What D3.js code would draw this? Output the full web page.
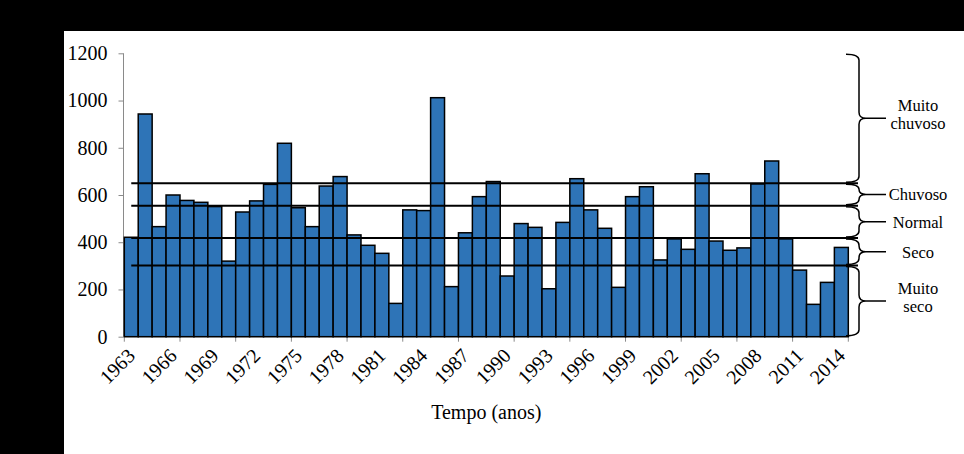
<!DOCTYPE html>
<html lang="pt">
  <head>
    <title>Precipitacao anual</title>
    <script src="https://d3js.org/d3.v7.min.js"></script>
    <style>
      body {
        margin: 0;
        background: black;
      }
      svg text {
        font-family: "Liberation Serif", "Times New Roman", "DejaVu Serif", serif;
        fill: black;
      }
      .bar {
        fill: #2e74b7;
        stroke: black;
        stroke-width: 1.5;
      }
      .limit {
        stroke: black;
        stroke-width: 2;
      }
      .brace {
        fill: none;
        stroke: black;
        stroke-width: 1.5;
      }
      .axis path,
      .axis line {
        stroke: #8a8a8a;
      }
    </style>
  </head>
  <body>
    <div id="chart"></div>
    <script>
      // Anos e precipitacao anual (mm)
      let years = d3.range(1963, 2015);
      let rainfall = [
        421, 943, 466, 600, 577, 569, 551, 320, 528, 575,
        645, 819, 546, 466, 638, 678, 431, 387, 353, 141,
        537, 534, 1012, 212, 440, 593, 657, 257, 479, 463,
        203, 484, 669, 537, 459, 209, 593, 635, 325, 414,
        370, 690, 405, 366, 376, 647, 744, 414, 282, 137,
        230, 378,
      ];
      let yTicks = [0, 200, 400, 600, 800, 1000, 1200];
      let yearLabels = years.filter(function (d) {
        return (d - 1963) % 3 === 0;
      });

      // limites das classes (de cima para baixo)
      let limits = [1200, 650, 555, 418, 302, 0];
      let classNames = [
        ["Muito", "chuvoso"],
        ["Chuvoso"],
        ["Normal"],
        ["Seco"],
        ["Muito", "seco"],
      ];

      let width = 964;
      let height = 454;
      let svg = d3
        .select("#chart")
        .append("svg")
        .attr("width", width)
        .attr("height", height)
        .attr("font-family", "Liberation Serif, serif");

      svg
        .append("rect")
        .attr("x", 64)
        .attr("y", 31)
        .attr("width", width - 64)
        .attr("height", height - 31)
        .attr("fill", "white");

      let x = d3.scaleBand().domain(years).range([124.3, 848.3]).padding(0);
      let y = d3.scaleLinear().domain([0, 1200]).range([336.7, 53.3]);

      // eixo y
      let yAxis = svg
        .append("g")
        .attr("class", "axis")
        .attr("transform", "translate(123.5,0)")
        .call(
          d3
            .axisLeft(y)
            .tickValues(yTicks)
            .tickFormat(d3.format("d"))
            .tickSize(5)
            .tickPadding(11)
        );
      yAxis.attr("font-family", null);
      yAxis.selectAll("text").style("font-size", "20px");
      yAxis.select(".domain").attr("d", "M-0,53.3V336.7");

      // eixo x (marcas a cada 4 anos)
      let tickPos = d3.range(0, years.length + 1, 4).map(function (i) {
        return x.range()[0] + i * x.step();
      });
      let xAxis = svg.append("g").attr("class", "axis");
      xAxis
        .append("line")
        .attr("x1", x.range()[0])
        .attr("x2", x.range()[1])
        .attr("y1", y(0))
        .attr("y2", y(0));
      xAxis
        .selectAll(".tk")
        .data(tickPos)
        .enter()
        .append("line")
        .attr("x1", function (d) {
          return d;
        })
        .attr("x2", function (d) {
          return d;
        })
        .attr("y1", y(0))
        .attr("y2", y(0) + 5);

      // barras
      svg
        .append("g")
        .selectAll("rect")
        .data(rainfall)
        .enter()
        .append("rect")
        .attr("class", "bar")
        .attr("x", function (d, i) {
          return x(years[i]);
        })
        .attr("y", function (d) {
          return y(d);
        })
        .attr("width", x.bandwidth())
        .attr("height", function (d) {
          return y(0) - y(d);
        });

      // rotulos dos anos
      svg
        .append("g")
        .selectAll("text")
        .data(yearLabels)
        .enter()
        .append("text")
        .attr("text-anchor", "end")
        .style("font-size", "20px")
        .attr("transform", function (d) {
          let cx = x(d) + x.bandwidth() / 2;
          return "translate(" + (cx + 5) + ",357) rotate(-45)";
        })
        .text(function (d) {
          return d;
        });

      svg
        .append("text")
        .attr("x", (x.range()[0] + x.range()[1]) / 2)
        .attr("y", 419)
        .attr("text-anchor", "middle")
        .style("font-size", "20px")
        .text("Tempo (anos)");

      // linhas dos limites
      let lineStart = x(years[0]) + x.bandwidth() / 2;
      svg
        .append("g")
        .selectAll("line")
        .data(limits.slice(1, 5))
        .enter()
        .append("line")
        .attr("class", "limit")
        .attr("x1", lineStart)
        .attr("x2", 858)
        .attr("y1", function (d) {
          return y(d);
        })
        .attr("y2", function (d) {
          return y(d);
        });

      // chaves e nomes das classes
      let xL = 846;
      let xS = 859;
      let xTip = 866;
      let xEnd = 886;
      function bracePath(y0, y1) {
        let ym = (y0 + y1) / 2;
        let r = Math.min(6, (y1 - y0) / 4);
        return (
          "M" + xL + "," + y0 +
          " Q" + xS + "," + y0 + " " + xS + "," + (y0 + r) +
          " L" + xS + "," + (ym - r) +
          " Q" + xS + "," + ym + " " + xTip + "," + ym +
          " L" + xEnd + "," + ym +
          " M" + xTip + "," + ym +
          " Q" + xS + "," + ym + " " + xS + "," + (ym + r) +
          " L" + xS + "," + (y1 - r) +
          " Q" + xS + "," + y1 + " " + xL + "," + y1
        );
      }

      let classes = svg
        .append("g")
        .selectAll("g")
        .data(classNames)
        .enter()
        .append("g");
      classes
        .append("path")
        .attr("class", "brace")
        .attr("d", function (d, i) {
          return bracePath(y(limits[i]) + 1, y(limits[i + 1]) - 1);
        });
      classes
        .append("text")
        .attr("text-anchor", "middle")
        .style("font-size", "16.5px")
        .each(function (d, i) {
          let ym = (y(limits[i]) + y(limits[i + 1])) / 2;
          let t = d3.select(this);
          if (d.length === 1) {
            t.append("tspan")
              .attr("x", 918)
              .attr("y", ym + 6)
              .text(d[0]);
          } else {
            t.append("tspan")
              .attr("x", 918)
              .attr("y", ym - 7)
              .text(d[0]);
            t.append("tspan")
              .attr("x", 918)
              .attr("y", ym + 11)
              .text(d[1]);
          }
        });
    </script>
  </body>
</html>
